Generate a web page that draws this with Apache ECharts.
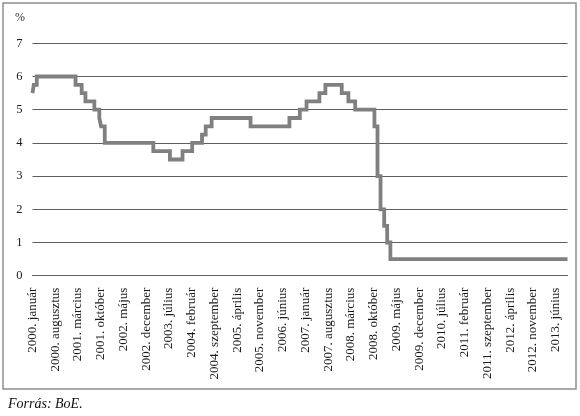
<!DOCTYPE html>
<html>
<head>
<meta charset="utf-8">
<script src="https://cdn.jsdelivr.net/npm/echarts@6/dist/echarts.min.js"></script>
<style>
html,body{margin:0;padding:0;background:#fff;}
#c{width:580px;height:416px;}
</style>
</head>
<body>
<div id="c"></div>
<script>
// Bank of England base rate: change dates and new rate (%)
const changeDates = [
  '2000-01-01','2000-01-13','2000-02-10','2001-02-08','2001-04-05','2001-05-10',
  '2001-08-02','2001-09-18','2001-10-04','2001-11-08','2003-02-06','2003-07-10',
  '2003-11-06','2004-02-05','2004-05-06','2004-06-10','2004-08-05','2005-08-04',
  '2006-08-03','2006-11-09','2007-01-11','2007-05-10','2007-07-05','2007-12-06',
  '2008-02-07','2008-04-10','2008-10-08','2008-11-06','2008-12-04','2009-01-08',
  '2009-02-05','2009-03-05','2013-09-20'
];
const rates = [
  5.5, 5.75, 6.0, 5.75, 5.5, 5.25,
  5.0, 4.75, 4.5, 4.0, 3.75, 3.5,
  3.75, 4.0, 4.25, 4.5, 4.75, 4.5,
  4.75, 5.0, 5.25, 5.5, 5.75, 5.5,
  5.25, 5.0, 4.5, 3.0, 2.0, 1.5,
  1.0, 0.5, 0.5
];
// x-axis tick labels, every 7 months from 2000 January
const tickLabels = [
  '2000. január','2000. augusztus','2001. március','2001. október','2002. május',
  '2002. december','2003. július','2004. február','2004. szeptember','2005. április',
  '2005. november','2006. június','2007. január','2007. augusztus','2008. március',
  '2008. október','2009. május','2009. december','2010. július','2011. február',
  '2011. szeptember','2012. április','2012. november','2013. június'
];
const yTicks = [0,1,2,3,4,5,6,7];

function monthIndex(s){
  const [y,m,d] = s.split('-').map(Number);
  const dim = new Date(y, m, 0).getDate();
  return (y-2000)*12 + (m-1) + (d-1)/dim;
}
const seriesData = changeDates.map((d,i)=>[monthIndex(d), rates[i]]);
const xMax = monthIndex(changeDates[changeDates.length-1]);

const serif = 'Liberation Serif';
const chart = echarts.init(document.getElementById('c'));
chart.setOption({
  animation:false,
  grid:{left:32.5,right:12.5,top:43.3,bottom:140.3,containLabel:false},
  graphic:[
    {type:'rect',shape:{x:3,y:3,width:573,height:386},style:{fill:'none',stroke:'#8f8f8f',lineWidth:1.5},silent:true},
    {type:'text',left:15,top:12,style:{text:'%',font:'12px "Liberation Serif"',fill:'#333'}},
    {type:'text',left:8,top:397,style:{text:'Forrás: BoE.',font:'italic 14px "Liberation Serif"',fill:'#111'}}
  ],
  xAxis:{
    type:'value',min:0,max:xMax,interval:7,
    axisLine:{show:true,lineStyle:{color:'#5e5e5e',width:1}},
    axisTick:{show:false},
    splitLine:{show:false},
    axisLabel:{
      rotate:90,margin:12,fontFamily:serif,fontSize:13,color:'#1a1a1a',
      showMaxLabel:false,
      formatter:function(v){
        const k = Math.round(v/7);
        return (Math.abs(v-7*k)<1e-6 && k<tickLabels.length) ? tickLabels[k] : '';
      }
    }
  },
  yAxis:{
    type:'value',min:yTicks[0],max:yTicks[yTicks.length-1],interval:1,
    axisLine:{show:false},axisTick:{show:false},
    splitLine:{show:true,lineStyle:{color:'#5e5e5e',width:1}},
    axisLabel:{margin:10,fontFamily:serif,fontSize:12.5,color:'#1a1a1a'}
  },
  series:[{
    type:'line',step:'end',data:seriesData,showSymbol:false,
    lineStyle:{color:'#808080',width:3.8,cap:'butt',join:'miter'}
  }]
});
</script>
</body>
</html>
